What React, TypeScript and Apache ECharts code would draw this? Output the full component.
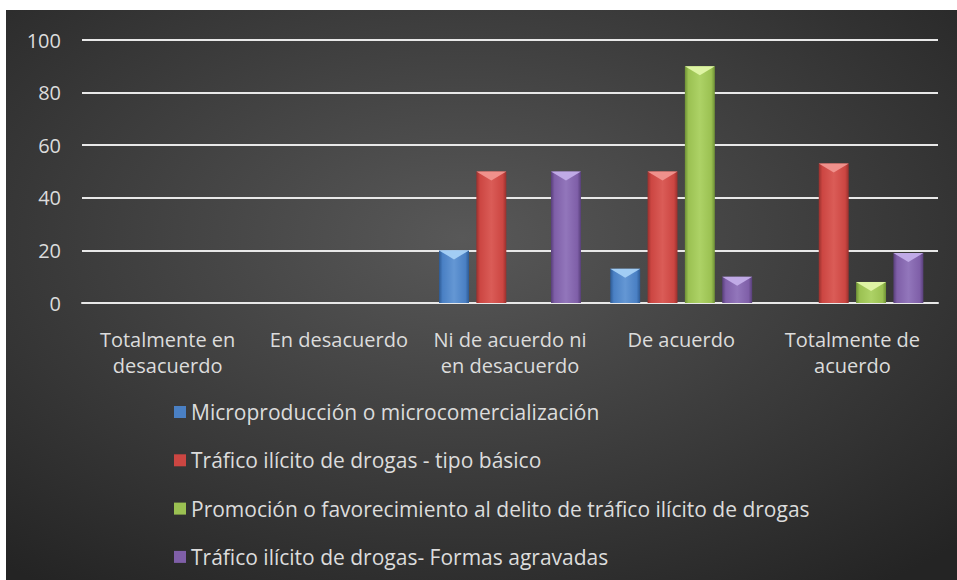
import React, { useEffect, useRef } from "react";
import * as echarts from "echarts";

const categories = [
  "Totalmente en\ndesacuerdo",
  "En desacuerdo",
  "Ni de acuerdo ni\nen desacuerdo",
  "De acuerdo",
  "Totalmente de\nacuerdo",
];

const seriesNames = [
  "Microproducción o microcomercialización",
  "Tráfico ilícito de drogas - tipo básico",
  "Promoción o favorecimiento al delito de tráfico ilícito de drogas",
  "Tráfico ilícito de drogas- Formas agravadas",
];

const microproduccion = [0, 0, 20, 13, 0];
const traficoBasico = [0, 0, 50, 50, 53];
const promocion = [0, 0, 0, 90, 8];
const formasAgravadas = [0, 0, 50, 10, 19];

const yMin = 0;
const yMax = 100;
const yInterval = 20;

const palette = [
  { base: "#4a80c4", dark: "#2d5a94", light: "#6497d4", top: "#a2cdf4" },
  { base: "#cc4642", dark: "#98302d", light: "#da5c57", top: "#f0918c" },
  { base: "#9bc152", dark: "#6e9135", light: "#add266", top: "#def4a4" },
  { base: "#7f5fa8", dark: "#583f7a", light: "#9276bb", top: "#c0aae6" },
];

const FONT = "'Open Sans', 'Noto Sans', sans-serif";
const TEXT = "#dcdcdc";

export default function App() {
  const ref = useRef<HTMLDivElement>(null);

  useEffect(() => {
    if (!ref.current) return;
    const chart = echarts.init(ref.current, undefined, { renderer: "svg" });
    const allValues = [microproduccion, traficoBasico, promocion, formasAgravadas];
    const n = allValues.length;

    const makeSeries = (idx: number) => {
      const pal = palette[idx];
      return {
        type: "custom",
        name: seriesNames[idx],
        itemStyle: { color: pal.base },
        encode: { x: 0, y: 1 },
        data: allValues[idx].map((v, i) => [i, v]),
        renderItem: (params: any, api: any) => {
          const cat = api.value(0);
          const v = api.value(1);
          if (!v) return null;
          const base = api.coord([cat, 0]);
          const topPt = api.coord([cat, v]);
          const catW = api.size([1, 0])[0];
          const w = catW * 0.175;
          const step = catW * 0.218;
          const cx = base[0] + (idx - (n - 1) / 2) * step;
          const x0 = cx - w / 2;
          const y0 = topPt[1];
          const h = base[1] - y0;
          const bev = Math.min(9, h / 2);
          return {
            type: "group",
            children: [
              {
                type: "rect",
                shape: { x: x0, y: y0, width: w, height: h },
                style: {
                  fill: new echarts.graphic.LinearGradient(0, 0, 1, 0, [
                    { offset: 0, color: pal.dark },
                    { offset: 0.12, color: pal.base },
                    { offset: 0.5, color: pal.light },
                    { offset: 0.88, color: pal.base },
                    { offset: 1, color: pal.dark },
                  ]),
                },
              },
              {
                type: "polygon",
                shape: {
                  points: [
                    [x0, y0],
                    [x0 + w, y0],
                    [cx, y0 + bev],
                  ],
                },
                style: { fill: pal.top },
              },
            ],
          };
        },
      };
    };

    chart.setOption({
      animation: false,
      backgroundColor: {
        type: "radial",
        x: 0.48,
        y: 0.4,
        r: 0.75,
        colorStops: [
          { offset: 0, color: "#585858" },
          { offset: 1, color: "#242424" },
        ],
      },
      textStyle: { fontFamily: FONT },
      grid: { left: 76, right: 19, top: 30, bottom: 277 },
      legend: {
        orient: "vertical",
        left: 168,
        top: 391,
        padding: 0,
        icon: "rect",
        itemWidth: 12,
        itemHeight: 12,
        itemGap: 26.3,
        itemTextGap: 5,
        textStyle: { color: TEXT, fontSize: 21, lineHeight: 22, fontFamily: FONT },
        data: seriesNames,
      },
      xAxis: {
        type: "category",
        data: categories,
        axisLine: { show: true, lineStyle: { color: "#e8e8e8", width: 2 } },
        axisTick: { show: false },
        axisLabel: {
          color: TEXT,
          fontSize: 20,
          lineHeight: 26,
          margin: 23,
          interval: 0,
          fontFamily: FONT,
        },
      },
      yAxis: {
        type: "value",
        min: yMin,
        max: yMax,
        interval: yInterval,
        axisLine: { show: false },
        axisTick: { show: false },
        splitLine: { lineStyle: { color: "#e8e8e8", width: 2 } },
        axisLabel: { color: TEXT, fontSize: 20, margin: 21, fontFamily: FONT },
      },
      series: allValues.map((_, i) => makeSeries(i)),
    });

    return () => chart.dispose();
  }, []);

  return (
    <div
      ref={ref}
      style={{ position: "absolute", left: 6, top: 10, width: 951, height: 570 }}
    />
  );
}
